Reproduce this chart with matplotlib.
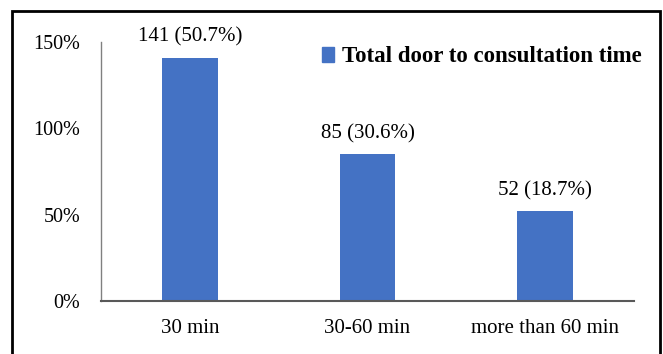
import matplotlib
matplotlib.use("Agg")
import matplotlib.pyplot as plt
from matplotlib.patches import Rectangle, Patch

categories = ["30 min", "30-60 min", "more than 60 min"]
counts = [141, 85, 52]
percents = [50.7, 30.6, 18.7]
yticks = [0, 50, 100, 150]
series_name = "Total door to consultation time"

plt.rcParams['font.family'] = ['Liberation Serif', 'DejaVu Serif']

fig = plt.figure(figsize=(6.63, 3.54), dpi=100)
ax = fig.add_axes([101/663, 53/354, (634-101)/663, (301-42)/354])

x = list(range(len(categories)))
bars = ax.bar(x, counts, width=0.315, color="#4472C4")
for xi, c, p in zip(x, counts, percents):
    ax.annotate(f"{c} ({p}%)", (xi, c), xytext=(0, 8), textcoords="offset points",
                ha="center", va="bottom", fontsize=15)

ax.set_xlim(-0.5, 2.5)
ax.set_ylim(0, 150)
ax.set_yticks(yticks)
ax.set_yticklabels([f"{v}%" for v in yticks], fontsize=14.5)
ax.set_xticks(x)
ax.set_xticklabels(categories, fontsize=15)
ax.tick_params(axis="y", length=0, pad=15)
ax.tick_params(axis="x", length=0, pad=13)
for s in ["top", "right"]:
    ax.spines[s].set_visible(False)
ax.spines["left"].set_color("#808080")
ax.spines["left"].set_linewidth(1.0)
ax.spines["bottom"].set_color("#595959")
ax.spines["bottom"].set_linewidth(1.5)

leg = fig.legend(handles=[Patch(color="#4472C4", label=series_name)],
                 loc="center left", bbox_to_anchor=(301/663, 1 - 57/354),
                 frameon=False, handlelength=0.52, handleheight=0.6, handletextpad=0.36,
                 prop={"size": 16.5, "weight": "bold"})

border = Rectangle((12/663, -0.1), (660-12)/663, (354-11)/354 + 0.1,
                   transform=fig.transFigure, fill=False, edgecolor="black",
                   linewidth=2, clip_on=False)
fig.patches.append(border)

fig.savefig("out.png", dpi=100)
